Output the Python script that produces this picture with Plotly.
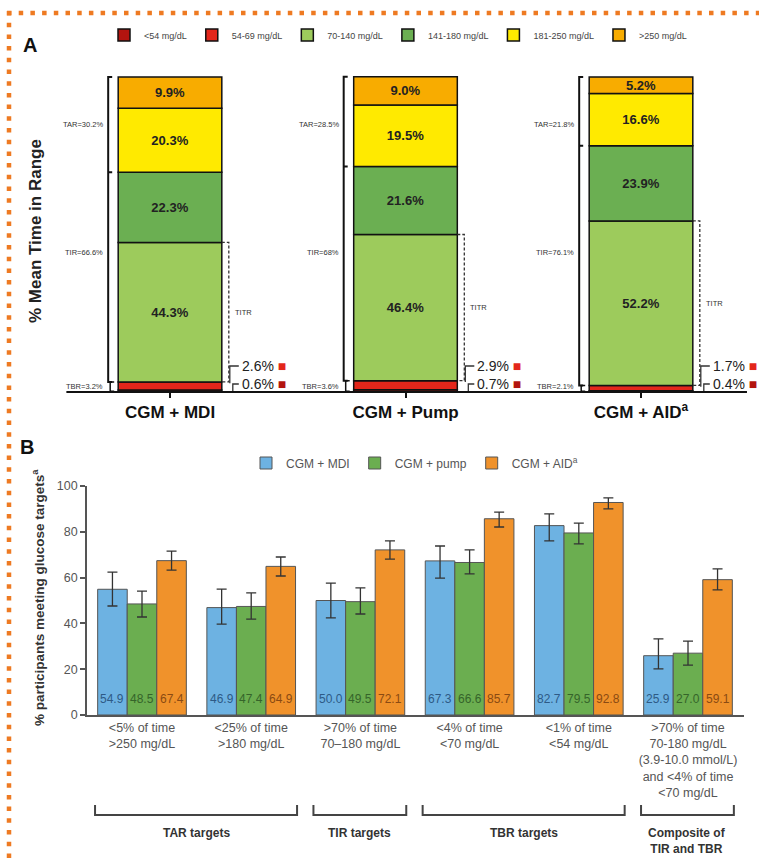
import plotly.graph_objects as go

W, H = 759, 865
FONT = "Arial, Liberation Sans, sans-serif"

# ---------------- Panel A data ----------------
groups_a = ["CGM + MDI", "CGM + Pump", "CGM + AID<sup>a</sup>"]
range_labels = ["<54 mg/dL", "54-69 mg/dL", "70-140 mg/dL", "141-180 mg/dL", "181-250 mg/dL", ">250 mg/dL"]
range_colors = ["#B3140F", "#E3261B", "#9DCB5C", "#6BAF52", "#FFEA00", "#F8AC00"]
lt54 = [0.6, 0.7, 0.4]
r54_69 = [2.6, 2.9, 1.7]
r70_140 = [44.3, 46.4, 52.2]
r141_180 = [22.3, 21.6, 23.9]
r181_250 = [20.3, 19.5, 16.6]
gt250 = [9.9, 9.0, 5.2]
tar_labels = ["TAR=30.2%", "TAR=28.5%", "TAR=21.8%"]
tir_labels = ["TIR=66.6%", "TIR=68%", "TIR=76.1%"]
tbr_labels = ["TBR=3.2%", "TBR=3.6%", "TBR=2.1%"]

# ---------------- Panel B data ----------------
targets = [
    "<5% of time<br>>250 mg/dL",
    "<25% of time<br>>180 mg/dL",
    ">70% of time<br>70–180 mg/dL",
    "<4% of time<br><70 mg/dL",
    "<1% of time<br><54 mg/dL",
    ">70% of time<br>70-180 mg/dL<br>(3.9-10.0 mmol/L)<br>and <4% of time<br><70 mg/dL",
]
series_b = ["CGM + MDI", "CGM + pump", "CGM + AID<sup>a</sup>"]
mdi = [54.9, 46.9, 50.0, 67.3, 82.7, 25.9]
pump = [48.5, 47.4, 49.5, 66.6, 79.5, 27.0]
aid = [67.4, 64.9, 72.1, 85.7, 92.8, 59.1]
mdi_hi = [62.4, 55.0, 57.6, 73.8, 87.8, 33.2]
mdi_lo = [47.6, 39.7, 42.4, 59.8, 76.0, 20.1]
pump_hi = [54.1, 53.3, 55.5, 72.1, 83.8, 32.3]
pump_lo = [42.8, 41.9, 44.1, 61.6, 74.7, 21.8]
aid_hi = [71.6, 69.0, 76.0, 88.6, 94.8, 63.8]
aid_lo = [63.3, 60.7, 68.1, 82.1, 90.0, 54.6]
b_colors = ["#6DB2E2", "#6BAE50", "#F0922B"]
b_text_colors = ["#2E5A86", "#35642A", "#8A4A12"]
bracket_names = ["TAR targets", "TIR targets", "TBR targets", "Composite of<br>TIR and TBR"]
bracket_first = [0, 2, 3, 5]
bracket_last = [1, 2, 4, 5]

# ---------------- geometry ----------------
A_X0_PX, A_STEP_PX = 170.0, 235.5
a_xrange = [-0.5, 2.5]
a_xdom = [(A_X0_PX + a_xrange[0] * A_STEP_PX) / W, min(1.0, (A_X0_PX + a_xrange[1] * A_STEP_PX) / W)]
A_BASE_PX, A_PX_PCT = 392.0, 3.15
a_yrange = [-3, 105]
a_ydom = [1 - (A_BASE_PX - a_yrange[0] * A_PX_PCT) / H, 1 - (A_BASE_PX - a_yrange[1] * A_PX_PCT) / H]

B_X0_PX, B_STEP_PX = 142.0, 109.2
b_xrange = [-0.505, 5.51]
b_xdom = [(B_X0_PX + b_xrange[0] * B_STEP_PX) / W, (B_X0_PX + b_xrange[1] * B_STEP_PX) / W]
B_BASE_PX, B_PX_PCT = 715.0, 2.29
b_yrange = [0, 100]
b_ydom = [1 - (B_BASE_PX - b_yrange[0] * B_PX_PCT) / H, 1 - (B_BASE_PX - b_yrange[1] * B_PX_PCT) / H]


def ax(p):  # pixels -> panel A x units
    return p / A_STEP_PX


def ay(p):  # pixels -> panel A y units
    return p / A_PX_PCT


def pyp(p):  # pixel y -> paper
    return 1 - p / H


def pxp(p):  # pixel x -> paper
    return p / W


def bx_paper(v):  # panel B x data -> paper
    return b_xdom[0] + (v - b_xrange[0]) / (b_xrange[1] - b_xrange[0]) * (b_xdom[1] - b_xdom[0])


fig = go.Figure()

# ---------------- Panel A bars ----------------
segments = [lt54, r54_69, r70_140, r141_180, r181_250, gt250]
xa = list(range(len(groups_a)))
BAR_W_A = 0.44
base = [0.0] * len(xa)
for k, vals in enumerate(segments):
    fig.add_trace(go.Bar(
        x=xa, y=vals, base=list(base), width=BAR_W_A, offsetgroup="A",
        name=range_labels[k], legend="legend",
        marker=dict(color=range_colors[k], line=dict(color="#111", width=1.5)),
        text=[f"<b>{v:.1f}%</b>" for v in vals] if k >= 2 else None,
        textposition="inside" if k >= 2 else "none", insidetextanchor="middle",
        constraintext="none",
        textfont=dict(family=FONT, size=13, color="#222"),
        xaxis="x", yaxis="y", hoverinfo="skip",
    ))
    base = [b + v for b, v in zip(base, vals)]
totals = base

shapes = []
annotations = []

for i in xa:
    left = i - BAR_W_A / 2
    right = i + BAR_W_A / 2
    tbr_top = lt54[i] + r54_69[i]
    titr_top = tbr_top + r70_140[i]
    tir_top = titr_top + r141_180[i]
    top = totals[i]
    bxl = left - ax(10)
    h = ax(4)
    # left bracket (TAR / TIR)
    shapes.append(dict(type="path", xref="x", yref="y",
                       path=f"M {bxl + h},{top} L {bxl},{top} L {bxl},{tbr_top} L {bxl + h},{tbr_top} "
                            f"M {bxl},{tir_top} L {bxl + h},{tir_top}",
                       line=dict(color="#111", width=2)))
    # TBR small bracket
    bxs = bxl + ax(2)
    shapes.append(dict(type="path", xref="x", yref="y",
                       path=f"M {bxs + h},{tbr_top} L {bxs},{tbr_top} L {bxs},{0.2} L {bxs + h},{0.2}",
                       line=dict(color="#111", width=1.5)))
    for lab, yv in ((tar_labels[i], 85), (tir_labels[i], 44.4), (tbr_labels[i], 1.9)):
        annotations.append(dict(x=bxl - ax(3), y=yv, xref="x", yref="y", text=lab, showarrow=False,
                                xanchor="right", yanchor="middle",
                                font=dict(family=FONT, size=7.5, color="#333")))
    # TITR dashed bracket
    xd = right + ax(7)
    shapes.append(dict(type="path", xref="x", yref="y",
                       path=f"M {right},{titr_top} L {xd},{titr_top} L {xd},{tbr_top} L {right},{tbr_top}",
                       line=dict(color="#333", width=1.3, dash="3px,2px")))
    annotations.append(dict(x=right + ax(11), y=tbr_top + r70_140[i] / 2, xref="x", yref="y",
                            text="TITR", showarrow=False, xanchor="left", yanchor="middle",
                            font=dict(family=FONT, size=7.5, color="#333")))
    # connectors to small-value labels
    y1, y2 = ay(26), ay(8)
    shapes.append(dict(type="path", xref="x", yref="y",
                       path=f"M {right + ax(8)},{tbr_top - 0.4} L {right + ax(8)},{y1} L {right + ax(17)},{y1}",
                       line=dict(color="#333", width=1.3)))
    shapes.append(dict(type="path", xref="x", yref="y",
                       path=f"M {right + ax(11)},{0.3} L {right + ax(11)},{y2} L {right + ax(17)},{y2}",
                       line=dict(color="#333", width=1.3)))
    annotations.append(dict(x=right + ax(18), y=y1, xref="x", yref="y",
                            text=f"{r54_69[i]:.1f}% <span style='color:{range_colors[1]}'>■</span>",
                            showarrow=False, xanchor="left", yanchor="middle",
                            font=dict(family=FONT, size=14, color="#222")))
    annotations.append(dict(x=right + ax(18), y=y2, xref="x", yref="y",
                            text=f"{lt54[i]:.1f}% <span style='color:{range_colors[0]}'>■</span>",
                            showarrow=False, xanchor="left", yanchor="middle",
                            font=dict(family=FONT, size=14, color="#222")))

# panel A baseline
shapes.append(dict(type="line", xref="x", yref="y", x0=-0.44, x1=2.45, y0=0, y1=0,
                   line=dict(color="#111", width=2)))

# ---------------- Panel B bars ----------------
xb = list(range(len(targets)))
vals_b = [mdi, pump, aid]
his = [mdi_hi, pump_hi, aid_hi]
los = [mdi_lo, pump_lo, aid_lo]
BARGAP = 0.188
bw = (1 - BARGAP) / 3
for j in range(3):
    fig.add_trace(go.Bar(
        x=xb, y=vals_b[j], name=series_b[j], legend="legend2", offsetgroup=f"b{j}",
        marker=dict(color=b_colors[j], line=dict(color="#555", width=1)),
        error_y=dict(type="data", symmetric=False,
                     array=[h_ - v for h_, v in zip(his[j], vals_b[j])],
                     arrayminus=[v - l_ for l_, v in zip(los[j], vals_b[j])],
                     color="#333", thickness=1.3, width=5),
        xaxis="x2", yaxis="y2", hoverinfo="skip",
    ))
    for g, v in enumerate(vals_b[j]):
        annotations.append(dict(x=g + (j - 1) * bw, y=7, xref="x2", yref="y2", text=f"{v:.1f}",
                                showarrow=False, xanchor="center", yanchor="middle",
                                font=dict(family=FONT, size=12, color=b_text_colors[j])))

# bottom brackets
for name, f, l in zip(bracket_names, bracket_first, bracket_last):
    x0 = bx_paper(f - 0.43)
    x1 = bx_paper(l + 0.42)
    shapes.append(dict(type="path", xref="paper", yref="paper",
                       path=f"M {x0},{pyp(805)} L {x0},{pyp(815)} L {x1},{pyp(815)} L {x1},{pyp(805)}",
                       line=dict(color="#444", width=2)))
    annotations.append(dict(x=(x0 + x1) / 2, y=pyp(824), xref="paper", yref="paper", text=f"<b>{name}</b>",
                            showarrow=False, xanchor="center", yanchor="top",
                            font=dict(family=FONT, size=12, color="#333")))

# panel labels and titles
annotations += [
    dict(x=pxp(30), y=pyp(45), xref="paper", yref="paper", text="<b>A</b>", showarrow=False,
         xanchor="center", yanchor="middle", font=dict(family=FONT, size=20, color="#111")),
    dict(x=pxp(27), y=pyp(447), xref="paper", yref="paper", text="<b>B</b>", showarrow=False,
         xanchor="center", yanchor="middle", font=dict(family=FONT, size=20, color="#111")),
    dict(x=pxp(35), y=pyp(231), xref="paper", yref="paper", text="<b>% Mean Time in Range</b>",
         showarrow=False, textangle=-90, xanchor="center", yanchor="middle",
         font=dict(family=FONT, size=17, color="#222")),
    dict(x=pxp(38), y=pyp(598), xref="paper", yref="paper",
         text="<b>% participants meeting glucose targets<sup>a</sup></b>",
         showarrow=False, textangle=-90, xanchor="center", yanchor="middle",
         font=dict(family=FONT, size=13.5, color="#333")),
]

# orange dotted frame
DOT = "#EE7A22"
shapes.append(dict(type="line", xref="paper", yref="paper", x0=pxp(7), x1=1, y0=pyp(13), y1=pyp(13),
                   line=dict(color=DOT, width=4.5, dash="4.5px,7.2px")))
shapes.append(dict(type="line", xref="paper", yref="paper", x0=pxp(9), x1=pxp(9), y0=pyp(11), y1=0,
                   line=dict(color=DOT, width=4.5, dash="4.5px,7.2px")))

fig.update_layout(
    width=W, height=H, margin=dict(l=0, r=0, t=0, b=0, autoexpand=False),
    paper_bgcolor="white", plot_bgcolor="rgba(0,0,0,0)",
    font=dict(family=FONT, color="#333"),
    barmode="group", bargap=BARGAP, bargroupgap=0,
    showlegend=True,
    xaxis=dict(domain=a_xdom, range=a_xrange, tickvals=xa, ticktext=[f"<b>{g}</b>" for g in groups_a],
               anchor="free", position=pyp(A_BASE_PX), showline=False, showgrid=False, zeroline=False,
               ticks="outside", ticklen=5, tickwidth=2, tickcolor="#111", automargin=False,
               tickfont=dict(family=FONT, size=17, color="#111")),
    yaxis=dict(domain=a_ydom, range=a_yrange, visible=False, showgrid=False, zeroline=False,
               automargin=False),
    xaxis2=dict(domain=b_xdom, range=b_xrange, anchor="y2", tickvals=xb, ticktext=targets,
                showline=True, linecolor="#555", linewidth=1.5, ticks="", showgrid=False, zeroline=False,
                automargin=False, tickfont=dict(family=FONT, size=12.5, color="#555")),
    yaxis2=dict(domain=b_ydom, range=b_yrange, anchor="x2", tickvals=[0, 20, 40, 60, 80, 100],
                showline=True, linecolor="#555", linewidth=1.5, ticks="outside", ticklen=5,
                tickcolor="#555", tickwidth=1.5, showgrid=False, zeroline=False, automargin=False,
                tickfont=dict(family=FONT, size=12.5, color="#555")),
    legend=dict(orientation="h", x=pxp(104), y=pyp(35), xanchor="left", yanchor="middle",
                font=dict(family=FONT, size=9, color="#444"), itemwidth=30,
                bgcolor="rgba(0,0,0,0)", traceorder="normal"),
    legend2=dict(orientation="h", x=pxp(246), y=pyp(463), xanchor="left", yanchor="middle",
                 font=dict(family=FONT, size=12, color="#555"), itemwidth=30,
                 bgcolor="rgba(0,0,0,0)", traceorder="normal"),
    shapes=shapes, annotations=annotations,
)

fig.write_html("out.html")
